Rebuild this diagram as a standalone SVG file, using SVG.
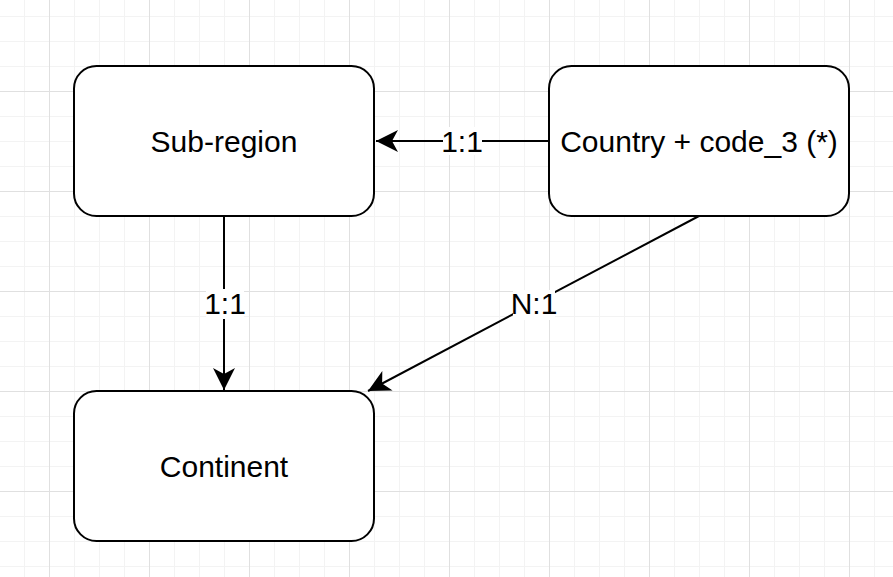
<svg xmlns="http://www.w3.org/2000/svg" width="893" height="577" viewBox="0 0 893 577">
<style>
.node rect{fill:#ffffff;stroke:#000000;stroke-width:2}
.node text{font-family:"Liberation Sans",Arial,sans-serif;font-size:30px;fill:#000000;text-anchor:middle}
.edge line{stroke:#000000;stroke-width:2;fill:none;marker-end:url(#arr)}
.lbl rect{fill:#ffffff}
.lbl text{font-family:"Liberation Sans",Arial,sans-serif;font-size:30px;fill:#000000;text-anchor:middle}
</style>
<defs>
<pattern id="grid" patternUnits="userSpaceOnUse" x="49" y="91" width="100" height="100">
<rect x="0" y="0" width="100" height="100" fill="#ffffff"/>
<rect x="25" y="0" width="1" height="100" fill="#f3f3f3"/>
<rect x="50" y="0" width="1" height="100" fill="#f3f3f3"/>
<rect x="75" y="0" width="1" height="100" fill="#f3f3f3"/>
<rect x="0" y="25" width="100" height="1" fill="#f3f3f3"/>
<rect x="0" y="50" width="100" height="1" fill="#f3f3f3"/>
<rect x="0" y="75" width="100" height="1" fill="#f3f3f3"/>
<rect x="0" y="0" width="1" height="100" fill="#e0e0e0"/>
<rect x="0" y="0" width="100" height="1" fill="#e0e0e0"/>
</pattern>
<marker id="arr" markerUnits="userSpaceOnUse" markerWidth="26" markerHeight="26" viewBox="-24 -13 26 26" refX="0" refY="0" orient="auto">
<path d="M0,0 L-22,-11 L-16,0 L-22,11 Z" fill="#000000"/>
</marker>
</defs>
<rect x="0" y="0" width="893" height="577" fill="url(#grid)"/>
<g id="edges" class="edge">
<line x1="549" y1="141" x2="376" y2="141"/>
<line x1="224" y1="216" x2="224" y2="390"/>
<line x1="699" y1="216" x2="368" y2="391"/>
</g>
<g id="labels" class="lbl">
<rect x="443" y="127" width="39" height="28"/>
<text x="462" y="152">1:1</text>
<rect x="206" y="289" width="38" height="30"/>
<text x="225" y="314">1:1</text>
<rect x="513" y="290" width="42" height="30"/>
<text x="534" y="314">N:1</text>
</g>
<g id="sub-region" class="node">
<rect x="74" y="66" width="300" height="150" rx="22.5" ry="22.5"/>
<text x="224" y="152">Sub-region</text>
</g>
<g id="country" class="node">
<rect x="549" y="66" width="300" height="150" rx="22.5" ry="22.5"/>
<text x="699" y="152">Country + code_3 (*)</text>
</g>
<g id="continent" class="node">
<rect x="74" y="391" width="300" height="150" rx="22.5" ry="22.5"/>
<text x="224" y="477">Continent</text>
</g>
</svg>
